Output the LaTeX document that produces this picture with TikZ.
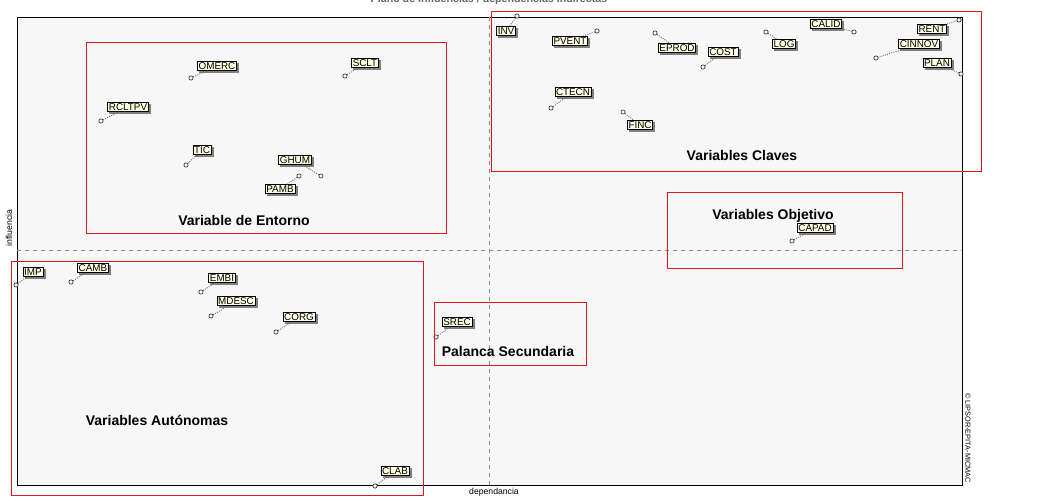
\documentclass[tikz,border=0pt]{standalone}
\usepackage{fontspec}
\setmainfont{Liberation Sans}
\definecolor{bgc}{HTML}{F7F7F7}
\definecolor{lblc}{HTML}{FFFFE6}
\definecolor{grpred}{RGB}{230,20,30}
\begin{document}
\begin{tikzpicture}[x=0.75pt,y=-0.75pt,
  lbl/.style={draw=black,fill=lblc,inner sep=0.9pt,font=\fontsize{7.4}{8}\selectfont},
  lblsh/.style={lbl,draw=black!50,fill=black!50,text=black!50},
  pt/.style={circle,draw=black!80,fill=white,inner sep=0pt,minimum size=3.2pt,line width=0.5pt},
  lk/.style={densely dotted,black!60,line width=0.7pt},
  grp/.style={draw=grpred,line width=0.7pt},
  gt/.style={font=\bfseries\fontsize{10.5}{12}\selectfont}]
\useasboundingbox (0,0) rectangle (1045,500);
\fill[white] (0,0) rectangle (1045,500);
\begin{scope}
\clip (0,0) rectangle (1045,500);
\node[font=\bfseries\fontsize{8}{9}\selectfont,text=black!60] (title) at (489,0) {Plano de influencias / dependencias indirectas};
\end{scope}
\fill[bgc] (17,17) rectangle (962,485);
\draw[black,line width=0.7pt] (17,17) -- (962,17) -- (962,485) -- (17,485) -- cycle;
\draw[dashed,black!45,line width=0.4pt] (489,17) -- (489,485);
\draw[dashed,black!45,line width=0.4pt] (17,250) -- (962,250);
\node[gt] (g1) at (244,220) {Variable de Entorno};
\node[gt] (g2) at (742,155) {Variables Claves};
\node[gt] (g3) at (773,216) {Variables Objetivo};
\node[gt] (g4) at (508,351) {Palanca Secundaria};
\node[gt] (g5) at (157,420) {Variables Autónomas};
\node[font=\fontsize{6.5}{7}\selectfont] (xl) at (494,492) {dependancia};
\node[font=\fontsize{6.5}{7}\selectfont,rotate=90] (yl) at (9,228) {influencia};
\node[font=\fontsize{5.5}{6}\selectfont,rotate=-90] (cp) at (968,438) {© LIPSOR-EPITA-MICMAC};
\foreach \n/\px/\py/\lx/\ly in {
 INV/517/16/506/31, PVENT/597/31/570/41, EPROD/655/33/677/48, COST/703/67/723/52,
 LOG/766/32/784/44, CALID/854/32/826/24, RENT/959/20/932/29, CINNOV/876/58/919/44,
 PLAN/961/74/937/63, CTECN/551/108/573/92, FINC/623/112/640/125,
 OMERC/191/78/217/66, SCLT/345/76/365/63, RCLTPV/101/121/128/107, TIC/186/165/202/150,
 GHUM/321/176/295/160, PAMB/299/176/280/189,
 IMP/16/285/33/272, CAMB/71/282/93/268, EMBI/201/292/222/278, MDESC/211/316/236/301,
 CORG/276/332/299/317, CLAB/375/486/395/471, SREC/436/337/457/322, CAPAD/792/241/815/228}{
  \node[pt] (p\n) at (\px,\py) {};
  \node[lblsh] (s\n) at (\lx+2,\ly+2) {\n};
  \node[lbl] (l\n) at (\lx,\ly) {\n};
  \draw[lk] (p\n) -- (l\n);
}
\draw[grp] (86,42) rectangle (446,233);
\draw[grp] (491,11) -- (981,11) -- (981,171) -- (491,171) -- cycle;
\draw[grp] (667,192) rectangle (902,268);
\draw[grp] (11,261) -- (423,261) -- (423,495) -- (11,495) -- cycle;
\draw[grp] (434,302) rectangle (586,365);
\end{tikzpicture}
\end{document}
